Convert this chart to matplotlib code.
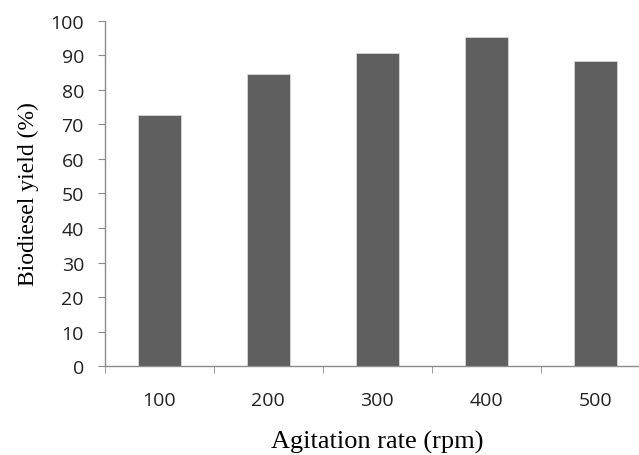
import numpy as np
import matplotlib.pyplot as plt

# agitation rate vs biodiesel yield
rates = ["100", "200", "300", "400", "500"]
yields = [72.7, 84.5, 90.7, 95.2, 88.3]

fig = plt.figure(figsize=(6.39, 4.56), dpi=100)
ax = fig.add_axes([0.164, 0.195, 0.853, 0.757])

x = np.arange(len(rates))
ax.bar(x, yields, width=0.4, color="#5f5f5f", edgecolor="#d8d8d8", linewidth=0.6)

ax.set_xlim(-0.5, len(rates) - 0.5)
ax.set_ylim(0, 100)
ax.set_yticks(np.arange(0, 101, 10))
ax.set_xticks(x)
ax.set_xticklabels(rates)
ax.set_xticks(np.arange(-0.5, len(rates), 1.0), minor=True)

spine_col = "#8c8c8c"
for s in ["top", "right"]:
    ax.spines[s].set_visible(False)
for s in ["left", "bottom"]:
    ax.spines[s].set_color(spine_col)
    ax.spines[s].set_linewidth(1.0)

ax.tick_params(axis="x", which="major", length=0, pad=18, labelsize=14, labelcolor="#222222")
ax.tick_params(axis="x", which="minor", length=5, direction="out", color=spine_col)
ax.tick_params(axis="y", length=5, direction="out", color=spine_col, pad=10,
               labelsize=14, labelcolor="#222222")
for lab in ax.get_xticklabels() + ax.get_yticklabels():
    lab.set_family("Open Sans")

ax.set_xlabel("Agitation rate (rpm)", family="Liberation Serif", fontsize=19, labelpad=15)
ax.set_ylabel("Biodiesel yield (%)", family="Liberation Serif", fontsize=17, labelpad=8)

fig.savefig("out.png", dpi=100)
